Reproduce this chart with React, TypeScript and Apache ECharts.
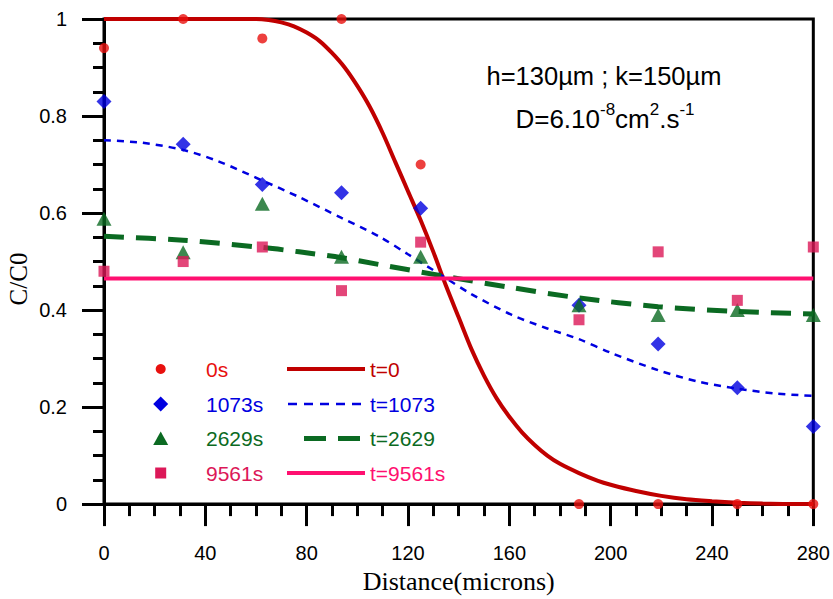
import React, { useEffect, useRef } from "react";
import * as echarts from "echarts";

// ---- Data ----
const xTickLabels = ["0", "40", "80", "120", "160", "200", "240", "280"];
const yTickLabels = ["0", "0.2", "0.4", "0.6", "0.8", "1"];

const positions = [0, 31.25, 62.5, 93.75, 125, 187.5, 218.75, 250, 280];
const meas0s = [0.94, 1.0, 0.96, 1.0, 0.7, 0.0, 0.0, 0.0, 0.0];
const meas1073s = [0.83, 0.742, 0.659, 0.642, 0.61, 0.41, 0.33, 0.24, 0.16];
const meas2629s = [0.588, 0.519, 0.619, 0.51, 0.51, 0.41, 0.39, 0.4, 0.39];
const meas9561s = [0.48, 0.5, 0.53, 0.44, 0.54, 0.38, 0.52, 0.42, 0.53];

const fitT0: [number, number][] = [
  [0, 1], [20, 1], [40, 1], [60, 1], [65, 0.998], [70, 0.993], [75, 0.985],
  [80, 0.972], [85, 0.955], [90, 0.93], [95, 0.9], [100, 0.862], [105, 0.818],
  [110, 0.765], [115, 0.705], [120, 0.645], [125, 0.585], [130, 0.52],
  [135, 0.45], [140, 0.385], [145, 0.32], [150, 0.265], [155, 0.218],
  [160, 0.18], [165, 0.148], [170, 0.122], [175, 0.1], [180, 0.083],
  [187.5, 0.064], [195, 0.048], [200, 0.04], [210, 0.027], [220, 0.017],
  [230, 0.01], [240, 0.006], [250, 0.003], [260, 0.001], [270, 0], [280, 0],
];
const fitT1073: [number, number][] = [
  [0, 0.75], [15, 0.745], [31.25, 0.73], [45, 0.707], [62.5, 0.667],
  [77, 0.633], [93.75, 0.59], [108.5, 0.552], [120, 0.515], [133.4, 0.471],
  [145, 0.433], [161, 0.39], [175, 0.362], [187.5, 0.34], [200, 0.312],
  [218.75, 0.276], [235, 0.252], [250, 0.238], [265, 0.228], [280, 0.223],
];
const fitT2629: [number, number][] = [
  [0, 0.552], [31.25, 0.544], [62.5, 0.529], [77, 0.52], [93.75, 0.508],
  [108.5, 0.494], [132, 0.472], [160, 0.447], [187.5, 0.425],
  [218.75, 0.407], [250, 0.397], [280, 0.392],
];
const fitT9561: [number, number][] = [
  [0, 0.465], [280, 0.465],
];

const legendRows = [
  { mark: "0s", line: "t=0" },
  { mark: "1073s", line: "t=1073" },
  { mark: "2629s", line: "t=2629" },
  { mark: "9561s", line: "t=9561s" },
];

const SANS = "'Liberation Sans', Arial, sans-serif";
const SERIF = "'Liberation Serif', 'Times New Roman', serif";

const C = {
  redDot: "#e8100e",
  redLine: "#c00000",
  blue: "#0000e0",
  green: "#0b6a22",
  pinkDot: "#dc1858",
  pinkLine: "#ff1070",
};

const pairs = (ys: number[]) => positions.map((x, i) => [x, ys[i]]);

export default function App() {
  const ref = useRef<HTMLDivElement>(null);
  useEffect(() => {
    if (!ref.current) return;
    const chart = echarts.init(ref.current, undefined, { renderer: "svg", width: 833, height: 599 });

    const rowY = [369, 404, 438.5, 473];
    const mx = 160.7;
    const legendGraphics: any[] = [
      { type: "circle", shape: { cx: mx, cy: rowY[0], r: 5 }, style: { fill: C.redDot } },
      {
        type: "polygon",
        shape: { points: [[mx, rowY[1] - 7.5], [mx + 7.5, rowY[1]], [mx, rowY[1] + 7.5], [mx - 7.5, rowY[1]]] },
        style: { fill: C.blue },
      },
      {
        type: "polygon",
        shape: { points: [[mx, rowY[2] - 7], [mx + 7.5, rowY[2] + 6.5], [mx - 7.5, rowY[2] + 6.5]] },
        style: { fill: C.green },
      },
      { type: "rect", shape: { x: mx - 5.5, y: rowY[3] - 5.5, width: 11, height: 11 }, style: { fill: C.pinkDot } },
      { type: "line", shape: { x1: 287, y1: rowY[0], x2: 365, y2: rowY[0] }, style: { stroke: C.redLine, lineWidth: 4 } },
      { type: "line", shape: { x1: 288, y1: rowY[1], x2: 364, y2: rowY[1] }, style: { stroke: C.blue, lineWidth: 2.5, lineDash: [9, 7] } },
      { type: "line", shape: { x1: 304, y1: rowY[2], x2: 360, y2: rowY[2] }, style: { stroke: C.green, lineWidth: 5, lineDash: [22, 12] } },
      { type: "line", shape: { x1: 287, y1: rowY[3], x2: 365, y2: rowY[3] }, style: { stroke: C.pinkLine, lineWidth: 4 } },
    ];
    const markColors = [C.redDot, C.blue, C.green, C.pinkDot];
    const lineColors = [C.redLine, C.blue, C.green, C.pinkLine];
    legendRows.forEach((r, i) => {
      legendGraphics.push({
        type: "text", x: 206, y: rowY[i],
        style: { text: r.mark, fill: markColors[i], font: `21px ${SANS}`, verticalAlign: "middle" },
      });
      legendGraphics.push({
        type: "text", x: 370, y: rowY[i],
        style: { text: r.line, fill: lineColors[i], font: `21px ${SANS}`, verticalAlign: "middle" },
      });
    });

    const option: any = {
      animation: false,
      backgroundColor: "#fff",
      grid: {
        left: 104, top: 19, width: 712, height: 497,
        show: true, borderColor: "#000", borderWidth: 3, backgroundColor: "transparent",
      },
      xAxis: {
        type: "value", min: 0, max: 280, interval: 40,
        name: "Distance(microns)", nameLocation: "middle", nameGap: 57,
        nameTextStyle: { fontFamily: SERIF, fontSize: 26, color: "#000" },
        axisLine: { show: true, lineStyle: { color: "#000", width: 3 } },
        axisTick: { show: true, inside: false, length: 22, lineStyle: { color: "#000", width: 3 } },
        minorTick: { show: true, splitNumber: 4, length: 12, lineStyle: { color: "#000", width: 3 } },
        splitLine: { show: false },
        axisLabel: {
          margin: 39, fontFamily: SANS, fontSize: 20, color: "#000",
          formatter: (v: number) => xTickLabels[Math.round(v / 40)] ?? String(v),
        },
      },
      yAxis: {
        type: "value", min: 0, max: 1, interval: 0.2,
        axisLine: { show: true, lineStyle: { color: "#000", width: 3 } },
        axisTick: { show: true, inside: false, length: 22, lineStyle: { color: "#000", width: 3 } },
        minorTick: { show: true, splitNumber: 4, length: 11, lineStyle: { color: "#000", width: 3 } },
        splitLine: { show: false },
        axisLabel: {
          margin: 37, fontFamily: SANS, fontSize: 20, color: "#000",
          formatter: (v: number) => yTickLabels[Math.round(v / 0.2)] ?? String(v),
        },
      },
      series: [
        {
          name: "t=0", type: "line", data: fitT0, showSymbol: false, symbol: "none",
          smooth: 0.3, lineStyle: { color: C.redLine, width: 4 }, z: 2,
        },
        {
          name: "t=1073", type: "line", data: fitT1073, showSymbol: false, symbol: "none",
          smooth: 0.3, lineStyle: { color: C.blue, width: 2.5, type: [7, 6] }, z: 2,
        },
        {
          name: "t=2629", type: "line", data: fitT2629, showSymbol: false, symbol: "none",
          smooth: 0.3, lineStyle: { color: C.green, width: 5, type: [20, 12] }, z: 2,
        },
        {
          name: "t=9561s", type: "line", data: fitT9561, showSymbol: false, symbol: "none",
          lineStyle: { color: C.pinkLine, width: 4 }, z: 2,
        },
        {
          name: "0s", type: "scatter", data: pairs(meas0s), symbol: "circle", symbolSize: 10,
          itemStyle: { color: C.redDot }, z: 5, clip: false,
        },
        {
          name: "1073s", type: "scatter", data: pairs(meas1073s), symbol: "diamond", symbolSize: 15,
          itemStyle: { color: C.blue }, z: 5, clip: false,
        },
        {
          name: "2629s", type: "scatter", data: pairs(meas2629s), symbol: "triangle", symbolSize: [15, 14],
          itemStyle: { color: C.green }, z: 5, clip: false,
        },
        {
          name: "9561s", type: "scatter", data: pairs(meas9561s), symbol: "rect", symbolSize: 11,
          itemStyle: { color: C.pinkDot }, z: 5, clip: false,
        },
      ],
      graphic: [
        {
          type: "text", x: 18, y: 279, rotation: Math.PI / 2,
          style: { text: "C/C0", fill: "#000", font: `25px ${SERIF}`, align: "center", verticalAlign: "middle" },
        },
        {
          type: "text", x: 604, y: 76,
          style: {
            text: "h=130µm ; k=150µm", fill: "#000", font: `25.5px ${SANS}`,
            align: "center", verticalAlign: "middle",
          },
        },
        {
          type: "text", x: 605, y: 119,
          style: {
            text: "D=6.10{sup|-8}cm{sup|2}.s{sup|-1}",
            fill: "#000", font: `26px ${SANS}`, lineHeight: 36,
            align: "center", verticalAlign: "middle",
            rich: {
              sup: { fontSize: 17, fontFamily: SANS, fill: "#000", verticalAlign: "top", lineHeight: 17 },
            },
          },
        },
        ...legendGraphics,
      ],
    };
    chart.setOption(option);
    return () => chart.dispose();
  }, []);
  return (
    <div
      ref={ref}
      style={{ position: "absolute", left: 0, top: 0, width: 833, height: 599 }}
    />
  );
}
